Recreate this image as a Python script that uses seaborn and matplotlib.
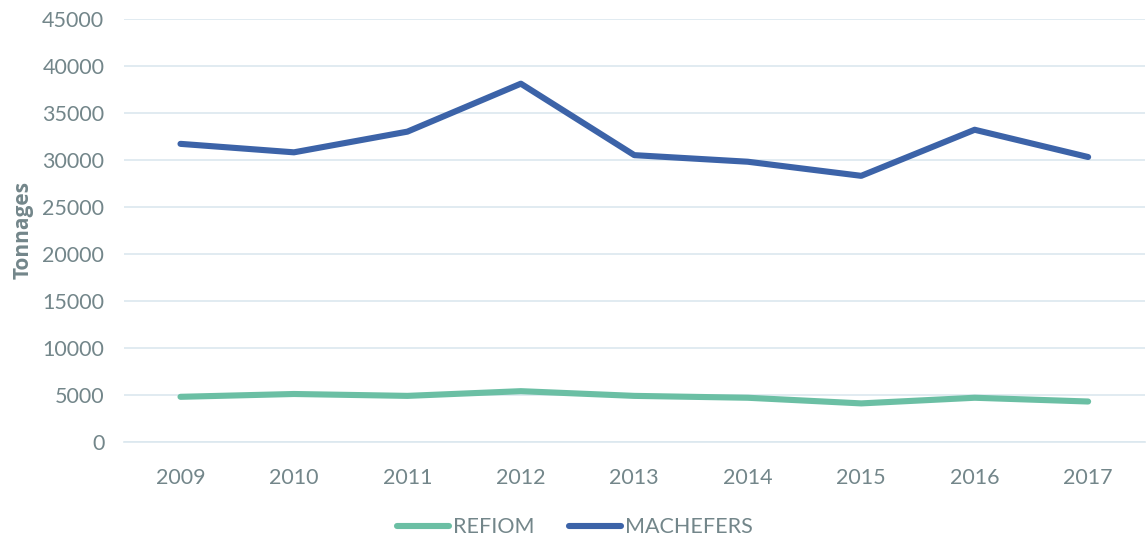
import pandas as pd
import matplotlib.pyplot as plt
import seaborn as sns
from matplotlib.lines import Line2D

years = ['2009', '2010', '2011', '2012', '2013', '2014', '2015', '2016', '2017']
refiom = [4800, 5100, 4900, 5400, 4900, 4700, 4100, 4700, 4300]
machefers = [31700, 30800, 33000, 38100, 30500, 29800, 28300, 33200, 30300]

df = pd.DataFrame({
    'year': years * 2,
    'value': refiom + machefers,
    'serie': ['REFIOM'] * len(years) + ['MACHEFERS'] * len(years),
})

sns.set_style('white')
plt.rcParams['font.family'] = ['Lato', 'DejaVu Sans']
text_col = '#73868a'
grid_col = '#dbe8ef'

fig = plt.figure(figsize=(11.46, 5.37), dpi=100)
ax = fig.add_axes([0.108, 0.177, 0.891, 0.788])

sns.lineplot(data=df, x='year', y='value', hue='serie', sort=False,
             palette={'REFIOM': '#6bbfa4', 'MACHEFERS': '#3c63a8'},
             linewidth=4.4, ax=ax, legend=False)
for ln in ax.get_lines():
    ln.set_solid_capstyle('round')
    ln.set_solid_joinstyle('round')

ax.set_ylim(0, 45000)
ax.set_xlim(-0.5, len(years) - 0.5)
ax.set_yticks(range(0, 45001, 5000))
ax.yaxis.grid(True, color=grid_col, linewidth=1.2)
ax.set_axisbelow(True)
for s in ['top', 'right', 'left']:
    ax.spines[s].set_visible(False)
ax.spines['bottom'].set_color(grid_col)
ax.spines['bottom'].set_linewidth(1.2)

# tick marks between categories, labels centred
ax.set_xticks([i - 0.5 for i in range(len(years) + 1)], minor=False)
ax.set_xticklabels([])
ax.set_xticks(range(len(years)), minor=True)
ax.set_xticklabels(years, minor=True)
ax.tick_params(axis='x', which='major', length=7, width=1.2, color=grid_col, direction='out')
ax.tick_params(axis='x', which='minor', length=0, pad=19, labelsize=15.5, labelcolor=text_col)
ax.tick_params(axis='y', length=0, pad=14, labelsize=15.5, labelcolor=text_col)

ax.set_xlabel('')
ax.set_ylabel('Tonnages', fontsize=15, fontweight='bold', family=['Open Sans', 'DejaVu Sans'],
              color=text_col, labelpad=6)

handles = [Line2D([], [], color='#6bbfa4', linewidth=4.4, solid_capstyle='round'),
           Line2D([], [], color='#3c63a8', linewidth=4.4, solid_capstyle='round')]
leg = fig.legend(handles, ['REFIOM', 'MACHEFERS'], loc='center', bbox_to_anchor=(0.502, 0.018),
                 ncol=2, frameon=False, fontsize=15.5, handlelength=2.4, handletextpad=0.2,
                 columnspacing=1.6)
for t in leg.get_texts():
    t.set_color(text_col)

fig.savefig('out.png', dpi=100)
